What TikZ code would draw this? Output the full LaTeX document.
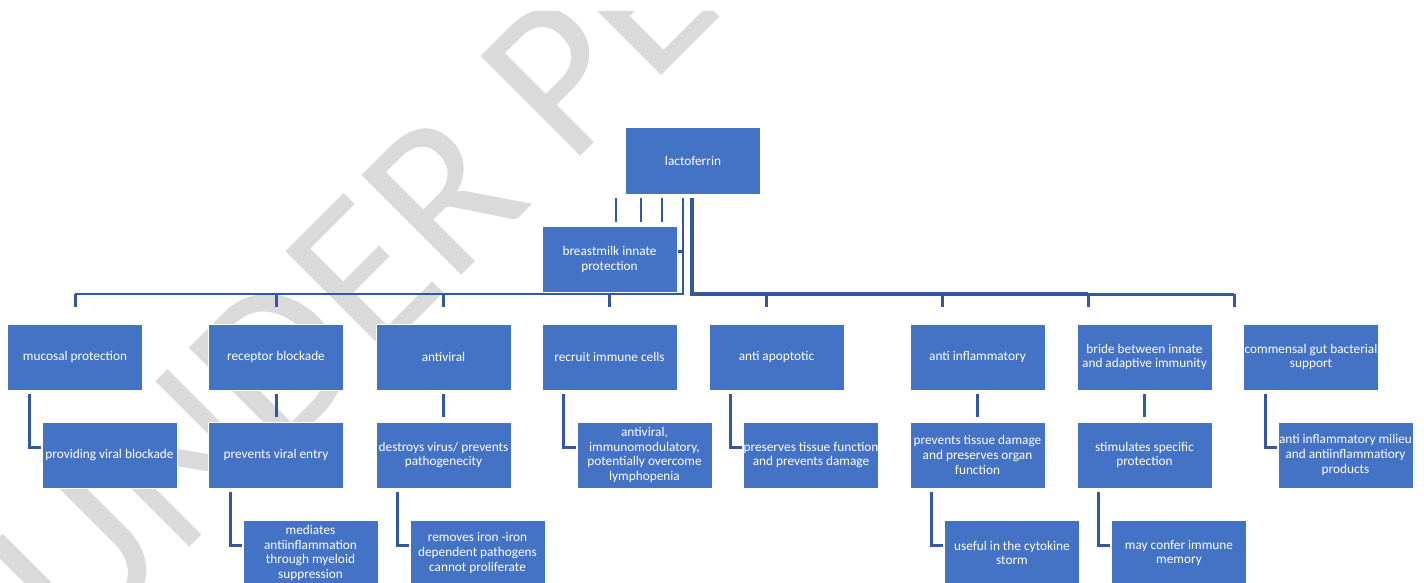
\documentclass[tikz,border=0pt]{standalone}
\usepackage{fontspec}
\setmainfont{Carlito}
\definecolor{boxblue}{RGB}{68,114,196}
\definecolor{linkblue}{RGB}{50,88,160}
\definecolor{markgray}{RGB}{218,218,218}
\pgfdeclarelayer{background}
\pgfsetlayers{background,main}
\begin{document}
\begin{tikzpicture}[x=1pt,y=-1pt]
        \tikzstyle{box}=[rectangle,fill=boxblue,draw=white,line width=1pt,text=white,minimum width=135pt,minimum height=66pt,inner sep=0pt,align=center,font=\fontsize{13.3}{14.7}\selectfont]
        \tikzstyle{link}=[draw=linkblue,line width=3pt]
        \useasboundingbox (0,0) rectangle (1424,583);

        \node[box] (top) at (693,161) {lactoferrin};
        \node[box] (milk) at (609.5,259.5) {breastmilk innate\\protection};

        \foreach \num/\x/\txt in {1/75/mucosal protection, 2/276/receptor blockade, 3/443.5/antiviral, 4/609.5/recruit immune cells, 5/776.5/anti apoptotic, 6/977.5/anti inflammatory, 7/1144.5/{bride between innate\\and adaptive immunity}, 8/1311/{commensal gut bacterial\\support}}
                \node[box] (F-\num) at (\x,357) {\txt};

        \foreach \num/\x/\txt in {1/109.5/providing viral blockade, 2/276/prevents viral entry, 3/443.5/{destroys virus/ prevents\\pathogenecity}, 4/644.5/{antiviral,\\immunomodulatory,\\potentially overcome\\lymphopenia}, 5/811/{preserves tissue function\\and prevents damage}, 6/977.5/{prevents tissue damage\\and preserves organ\\function}, 7/1144.5/{stimulates specific\\protection}, 8/1345.5/{anti inflammatory milieu\\and antiinflammatiory\\products}}
                \node[box] (E-\num) at (\x,455) {\txt};

        \foreach \num/\x/\txt in {2/310.5/{mediates\\antiinflammation\\through myeloid\\suppression}, 3/477.5/{removes iron -iron\\dependent pathogens\\cannot proliferate}, 6/1012/{useful in the cytokine\\storm}, 7/1179/{may confer immune\\memory}}
                \node[box] (X-\num) at (\x,553) {\txt};

        \begin{pgfonlayer}{background}
                \fill[white] (0,0) rectangle (1424,583);
                \begin{scope}
                        \clip (0,12) rectangle (1424,583);
                        \node[rotate=45,anchor=base west,inner sep=0pt,text=markgray,font=\fontsize{220}{220}\selectfont] (mark) at (78,659) {UNDER PEER REVIEW};
                \end{scope}

                \coordinate (J-L) at (683,294);
                \coordinate (J-M) at (683,251);
                \coordinate (J-R) at (692,294);
                \foreach \num/\x in {5/766, 6/942, 7/1088, 8/1234}
                        \coordinate (D-\num) at (\x,294);

                \foreach \dx in {-77,-52,-31}
                        \draw[link,line width=2.5pt,shorten <=3pt,shorten >=4pt] ([xshift=\dx pt]top.south) -- ([xshift=\dx pt+83.5pt]milk.north);

                \draw[link,line width=2.5pt,shorten <=3pt] ([xshift=-10pt]top.south) -- (J-L) -- (J-L -| F-1.north);
                \draw[link] (J-M) -- (J-M -| milk.east);
                \foreach \num in {1,...,4}
                        \draw[link,shorten >=17pt] (J-L -| F-\num.north) -- (F-\num.north);

                \draw[link,line width=4.5pt,shorten <=3pt] ([xshift=-1pt]top.south) -- (J-R) -- (D-7);
                \draw[link] (D-7) -- (D-8);
                \foreach \num in {5,...,8}
                        \draw[link,shorten >=17pt] (D-\num) -- (D-\num |- F-\num.north);

                \foreach \num in {1,4,5,8}
                        \draw[link] ([shift={(22,3)}]F-\num.south west) |- ([shift={(-1,-8)}]E-\num.west);
                \foreach \num in {2,3,6,7}
                        \draw[link,shorten <=3pt,shorten >=5pt] (F-\num.south) -- (E-\num.north);
                \foreach \num in {2,3,6,7}
                        \draw[link] ([shift={(22,3)}]E-\num.south west) |- ([shift={(-1,-8)}]X-\num.west);
        \end{pgfonlayer}
\end{tikzpicture}
\end{document}
